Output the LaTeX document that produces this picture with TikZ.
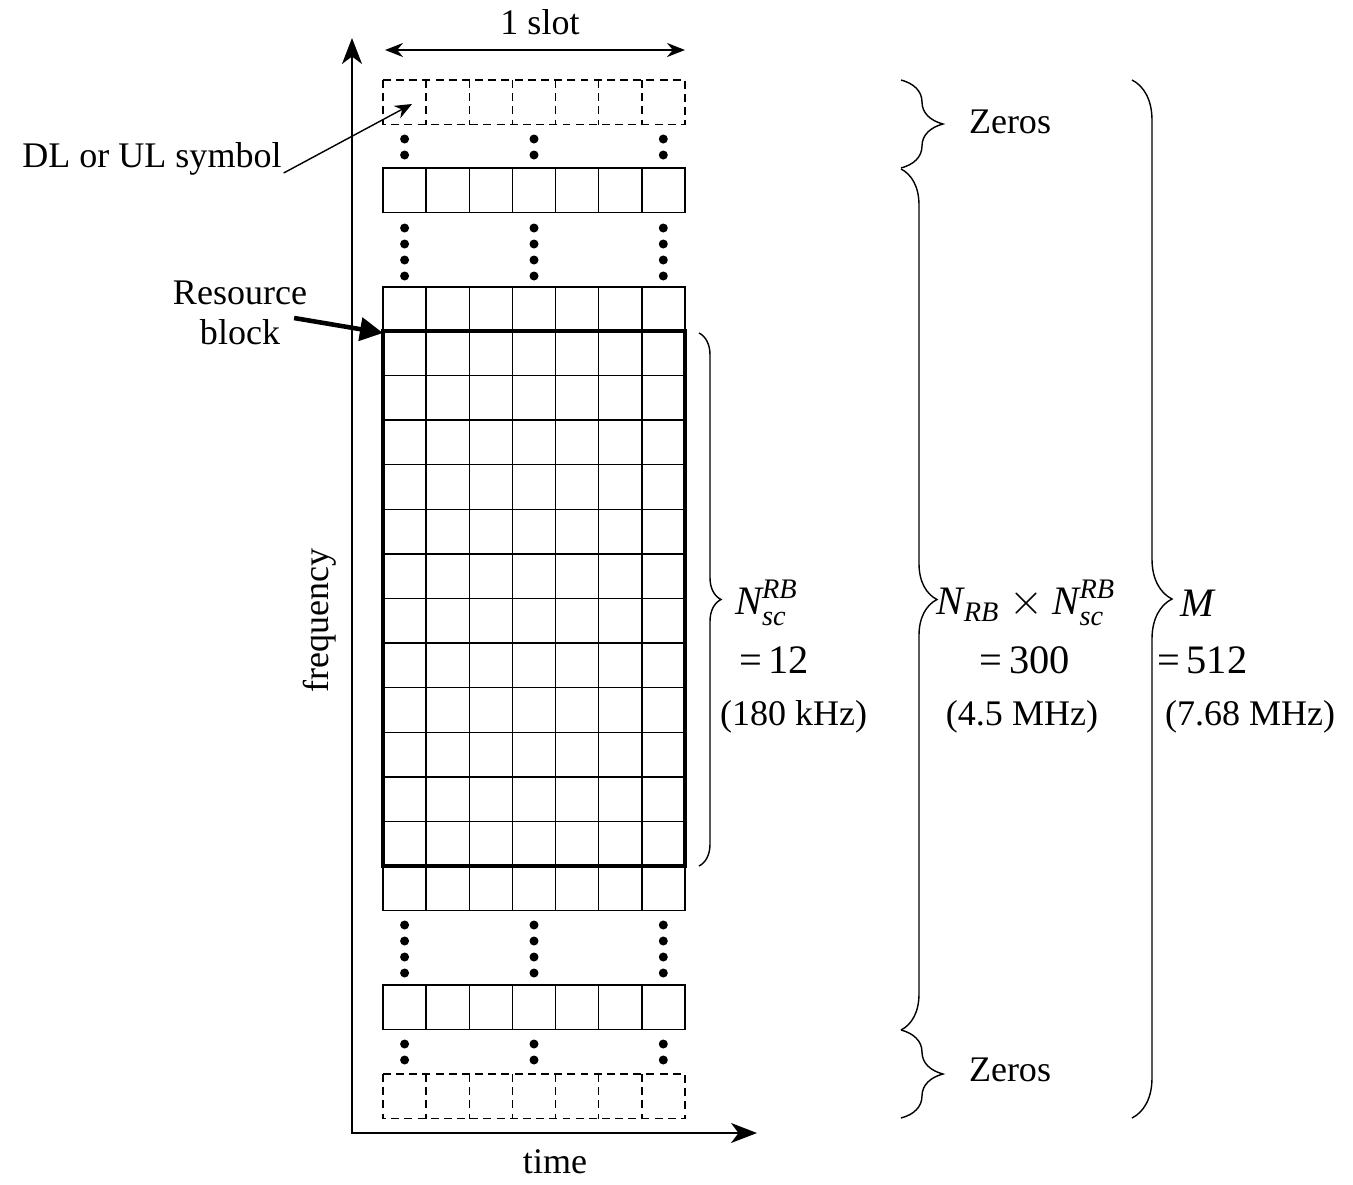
\documentclass[tikz,border=0pt]{standalone}
\usepackage{amsmath}
\usepackage{fontspec}
\setmainfont{Liberation Serif}
\usetikzlibrary{arrows.meta,positioning,decorations.pathreplacing}

\newcommand{\lblfont}{\fontsize{20.5}{23}\selectfont}
\newcommand{\eqfont}{\fontsize{23}{27}\selectfont}
% one row of 7 symbols, top edge at #2
\newcommand{\symrow}[2]{%
  \draw[#1] (383,#2) rectangle ++(302,44.5);
  \foreach \c in {1,...,6}
    \draw[#1] ({383+\c*43.14},#2) -- ++(0,44.5);}

\begin{document}
\begin{tikzpicture}[
    x=0.02cm, y=-0.02cm,
    cell/.style={line width=0.8pt},
    zerocell/.style={line width=0.8pt, dash pattern=on 4.5pt off 3pt},
    rbbox/.style={line width=2.8pt},
    axis/.style={{Stealth[length=0.52cm, width=0.4cm, inset=0.15cm]}-{Stealth[length=0.52cm, width=0.4cm, inset=0.15cm]}, line width=1.1pt},
    slot/.style={{Stealth[length=0.36cm, width=0.28cm]}-{Stealth[length=0.36cm, width=0.28cm]}, line width=1.1pt},
    pointer/.style={-{Stealth[length=0.34cm, width=0.28cm]}, line width=0.8pt},
    bigpointer/.style={-{Triangle[length=0.46cm, width=0.46cm]}, line width=2.6pt},
    brc/.style={decorate, decoration={brace, amplitude=#1}, line width=0.8pt},
    lbl/.style={font=\lblfont, inner sep=1pt},
    eq/.style={font=\eqfont, inner sep=1pt}
]
    \useasboundingbox (0,0) rectangle (1353,1184);

    % Axes
    \coordinate (ftop) at (352,38);
    \coordinate (origin) at (352,1133);
    \coordinate (tend) at (757,1133);
    \draw[axis] (ftop) -- (origin) -- (tend);
    \node[lbl, rotate=90] (freq) at (320,620) {frequency};
    \node[lbl] (time) at (555,1162) {time};

    % Slot width
    \node[lbl] (slotlbl) at (540,22) {1 slot};
    \coordinate (slotL) at (385,50);
    \coordinate (slotR) at (685,50);
    \draw[slot] (slotL) -- (slotR);

    % Symbol rows
    \symrow{zerocell}{80}
    \symrow{cell}{168}
    \symrow{cell}{287}
    \foreach \r in {0,...,11}
        \foreach \c in {0,...,6}
            \draw[cell] ({383+\c*43.14},{331+\r*44.58}) rectangle ++(43.14,44.58);
    \draw[rbbox] (383,331) rectangle (685,866);
    \symrow{cell}{866}
    \symrow{cell}{985}
    \symrow{zerocell}{1074}

    % Dots
    \foreach \y in {139,155,1044,1060}
        \foreach \x in {404.6,534,663.3}
            \fill (\x,\y) circle (0.09cm);
    \foreach \y in {228,244,260,276,925,941,957,973}
        \foreach \x in {404.6,534,663.3}
            \fill (\x,\y) circle (0.09cm);

    % Pointers
    \node[lbl] (dl) at (152,159) {DL or UL symbol};
    \coordinate (dlcell) at (412,104);
    \draw[pointer] ([yshift=-0.28cm]dl.east) -- (dlcell);
    \node[lbl, align=center] (rb) at (240,313) {Resource\\block};
    \coordinate (rbcorner) at (383,333);
    \draw[bigpointer] ([xshift=-0.3cm, yshift=-0.1cm]rb.east) -- (rbcorner);

    % Braces
    \draw[brc=0.44cm] (699,333) -- (699,866);
    \draw[brc=0.84cm] (901,80) -- (901,168);
    \draw[brc=0.72cm] (901,169) -- (901,1030);
    \draw[brc=0.84cm] (901,1030) -- (901,1118);
    \draw[brc=0.8cm] (1132,80) -- (1132,1118);

    % Brace labels
    \node[lbl] (zeros1) at (1010,122) {Zeros};
    \node[lbl] (zeros2) at (1010,1070) {Zeros};

    \node[eq, anchor=west] (nsc) at (733,603) {$\textit{N}^{\textit{RB}}_{\textit{sc}}$};
    \node[eq, anchor=west] (eq12) at (737,660) {=\,12};
    \node[lbl, anchor=west] (khz) at (718,717) {(180 kHz)};

    \node[eq] (nrb) at (1026,603) {$\textit{N}_{\textit{RB}}\times\textit{N}^{\textit{RB}}_{\textit{sc}}$};
    \node[eq] (eq300) at (1025,660) {=\,300};
    \node[lbl] (mhz1) at (1022,717) {(4.5 MHz)};

    \node[eq] (m) at (1198,603) {\textit{M}};
    \node[eq, anchor=west] (eq512) at (1155,660) {=\,512};
    \node[lbl, anchor=west] (mhz2) at (1163,717) {(7.68 MHz)};
\end{tikzpicture}
\end{document}
